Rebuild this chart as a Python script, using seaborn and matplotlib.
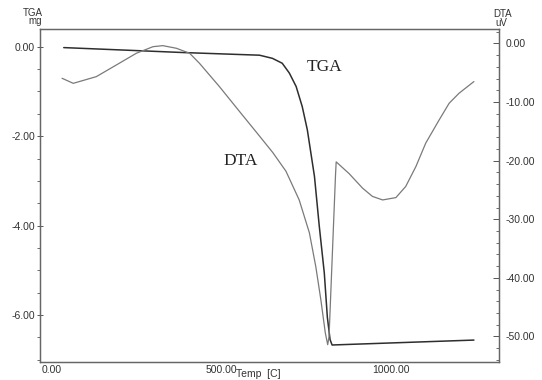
"""TGA / DTA термограмма: две кривые на общей оси температуры, две оси Y."""
import matplotlib
matplotlib.use("Agg")
import matplotlib.pyplot as plt
import pandas as pd
import seaborn as sns
from matplotlib.ticker import MultipleLocator, FixedLocator

# TGA, mg (левая ось)
tga_temp = [35, 259, 385, 612, 650, 679, 700, 720, 738, 753, 774, 788,
            803, 812, 820, 826, 1244]
tga_mg = [-0.02, -0.09, -0.13, -0.19, -0.26, -0.37, -0.59, -0.89, -1.34,
          -1.86, -2.90, -4.00, -5.06, -6.05, -6.55, -6.67, -6.56]

# DTA, uV (правая ось)
dta_temp = [30, 63, 131, 190, 249, 298, 327, 367, 406, 435, 494, 553, 612,
            651, 690, 729, 759, 778, 793, 806, 813, 817, 836, 838, 876, 916,
            945, 975, 1014, 1043, 1073, 1102, 1141, 1171, 1200, 1244]
dta_uv = [-5.94, -6.80, -5.66, -3.67, -1.67, -0.55, -0.37, -0.82, -1.67,
          -3.38, -7.37, -11.6, -15.8, -18.6, -21.8, -26.7, -32.3, -38.1,
          -43.8, -49.4, -51.4, -50.0, -22.5, -20.2, -22.2, -24.7, -26.1,
          -26.7, -26.3, -24.4, -21.0, -17.0, -13.1, -10.2, -8.5, -6.5]

x_ticks = [0, 500, 1000]
x_ticklabels = ["0.00", "500.00", "1000.00"]
tga_ticks = [0, -2, -4, -6]
dta_ticks = [0, -10, -20, -30, -40, -50]

sns.set_style("white")
plt.rcParams["font.family"] = ["Liberation Sans", "DejaVu Sans"]

tga = pd.DataFrame({"temp": tga_temp, "mg": tga_mg})
dta = pd.DataFrame({"temp": dta_temp, "uv": dta_uv})

fig = plt.figure(figsize=(5.42, 3.8), dpi=100)
ax = fig.add_axes([0.0738, 0.0474, 0.8469, 0.8763])
ax2 = ax.twinx()

sns.lineplot(data=tga, x="temp", y="mg", ax=ax, color="#2e2e2e",
             linewidth=1.1, estimator=None, sort=False)
sns.lineplot(data=dta, x="temp", y="uv", ax=ax2, color="#7a7a7a",
             linewidth=0.9, estimator=None, sort=False)

ax.set_xlim(-35, 1318)
ax.set_ylim(-7.05, 0.396)
ax2.set_ylim(-54.35, 2.47)

tick_kw = dict(labelsize=7.5, colors="#555555", labelcolor="#333333", width=0.7)
ax.xaxis.set_major_locator(FixedLocator(x_ticks))
ax.set_xticklabels(x_ticklabels)
ax.xaxis.set_minor_locator(MultipleLocator(100))
ax.set_yticks(tga_ticks)
ax.set_yticklabels([f"{v:.2f}" for v in tga_ticks])
ax.yaxis.set_minor_locator(MultipleLocator(0.5))
ax2.set_yticks(dta_ticks)
ax2.set_yticklabels([f"{v:.2f}" for v in dta_ticks])
ax2.yaxis.set_minor_locator(MultipleLocator(2))

ax.tick_params(axis="x", which="major", direction="in", length=4, pad=2, **tick_kw)
ax.tick_params(axis="x", which="minor", direction="in", length=2.5, width=0.6, colors="#555555")
ax.tick_params(axis="y", which="major", direction="inout", length=5, pad=1, left=True, **tick_kw)
ax.tick_params(axis="y", which="minor", direction="out", length=2.5, width=0.6, left=True, colors="#555555")
ax2.tick_params(axis="y", which="major", direction="in", length=4, pad=5, right=True, **tick_kw)
ax2.tick_params(axis="y", which="minor", direction="in", length=2.5, width=0.6, right=True, colors="#555555")

ax.set_xlabel("")
ax.set_ylabel("")
ax2.set_ylabel("")
for a in (ax, ax2):
    for sp in a.spines.values():
        sp.set_color("#666666")
        sp.set_linewidth(0.9)

# подписи кривых
serif = ["Liberation Serif", "DejaVu Serif"]
ax.text(805, -0.45, "TGA", fontsize=12.5, family=serif,
        color="#222222", ha="center", va="center")
ax.text(555, -2.56, "DTA", fontsize=12.5, family=serif,
        color="#222222", ha="center", va="center")

# единицы осей
fig.text(33 / 542, 1 - 13 / 380, "TGA", fontsize=7, color="#333333", ha="center", va="center")
fig.text(35 / 542, 1 - 21.5 / 380, "mg", fontsize=7, color="#333333", ha="center", va="center")
fig.text(503 / 542, 1 - 14 / 380, "DTA", fontsize=7, color="#333333", ha="center", va="center")
fig.text(501 / 542, 1 - 23 / 380, "uV", fontsize=7, color="#333333", ha="center", va="center")
fig.text(258 / 542, 1 - 379 / 380, "Temp  [C]", fontsize=7.5, color="#333333", ha="center", va="bottom")

fig.savefig("out.png", dpi=100)
